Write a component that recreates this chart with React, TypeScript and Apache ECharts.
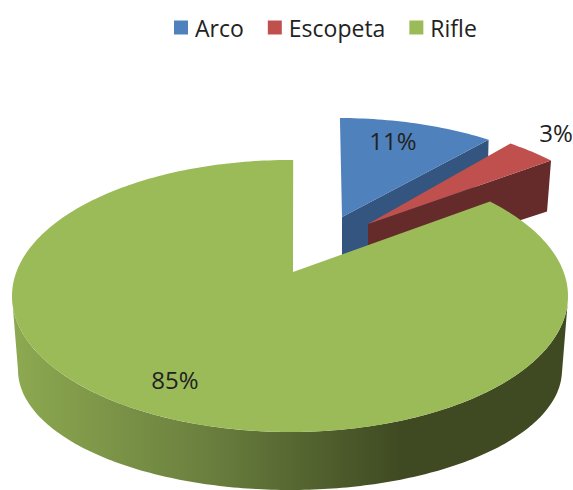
import React, { useEffect, useRef } from "react";
import * as echarts from "echarts";

const categories = ["Arco", "Escopeta", "Rifle"];
const percentValues = [11, 3, 85];

const colors = ["#4f81bd", "#c0504d", "#9bbb59"];
const wallColors = ["#34557f", "#652b2a", "#3f4a22"];
const LABEL_FONT = '"Open Sans", "Noto Sans", sans-serif';
const TOTAL = percentValues.reduce((a, b) => a + b, 0);

// Perspective layout of each exploded slice (pixels / degrees clockwise from 12 o'clock)
const sliceLayouts = [
  { cx: 338, cy: 254, rx: 278, ry: 136, apex: [342, 217], start: 0.4, sweepScale: 0.81, apexDepth: 45, tipDepth: 40, tipShift: -1, label: [393, 140] },
  { cx: 351, cy: 255, rx: 278, ry: 136, apex: [368, 224], start: 35, sweepScale: 1.01, apexDepth: 46, tipDepth: 51, tipShift: -4, label: [556, 132] },
  { cx: 290, cy: 296, rx: 278, ry: 136, apex: [293, 272], start: 46, sweepScale: 1.018, apexDepth: 0, tipDepth: 0, tipShift: 0, label: [175, 379] },
];
const greenFloor = { cx: 290, cy: 370, rx: 272, ry: 120 };

const rad = (d: number) => (d * Math.PI) / 180;
const onEllipse = (e: { cx: number; cy: number; rx: number; ry: number }, deg: number) => [
  e.cx + e.rx * Math.sin(rad(deg)),
  e.cy - e.ry * Math.cos(rad(deg)),
];
const arc = (e: any, from: number, to: number) => {
  const n = Math.max(2, Math.ceil(Math.abs(to - from)));
  const pts: number[][] = [];
  for (let i = 0; i <= n; i++) pts.push(onEllipse(e, from + ((to - from) * i) / n));
  return pts;
};

const renderSlice = (index: number) => (_params: any, api: any) => {
  const value = api.value(0);
  const s = sliceLayouts[index];
  const end = s.start + (value / TOTAL) * 360 * s.sweepScale;
  const children: any[] = [];
  if (index === 2) {
    const wall = [...arc(s, 92, 270), ...arc(greenFloor, 270, 92)];
    children.push({
      type: "polygon",
      shape: { points: wall },
      style: {
        fill: new echarts.graphic.LinearGradient(
          18, 0, 400, 0,
          [
            { offset: 0, color: "#8ca850" },
            { offset: 0.5, color: "#6a7f3e" },
            { offset: 1, color: wallColors[2] },
          ],
          true
        ),
      },
    });
  } else {
    const tip = onEllipse(s, end);
    children.push({
      type: "polygon",
      shape: {
        points: [
          s.apex,
          tip,
          [tip[0] + s.tipShift, tip[1] + s.tipDepth],
          [s.apex[0], s.apex[1] + s.apexDepth],
        ],
      },
      style: { fill: wallColors[index] },
    });
  }
  children.push({
    type: "polygon",
    shape: { points: [s.apex, ...arc(s, s.start, end)] },
    style: { fill: colors[index] },
  });
  children.push({
    type: "text",
    style: {
      x: s.label[0],
      y: s.label[1],
      text: `${value}%`,
      fill: "#222222",
      font: `24px ${LABEL_FONT}`,
      align: "center",
      verticalAlign: "middle",
    },
  });
  return { type: "group", children };
};

export default function App() {
  const ref = useRef<HTMLDivElement>(null);
  useEffect(() => {
    document.body.style.margin = "0";
    const chart = echarts.init(ref.current!, undefined, { renderer: "svg" });
    chart.setOption({
      animation: false,
      backgroundColor: "#ffffff",
      legend: {
        data: categories,
        left: 169,
        top: 11,
        icon: "rect",
        itemWidth: 14,
        itemHeight: 14,
        itemGap: 24,
        textStyle: { fontFamily: LABEL_FONT, fontSize: 23, color: "#222222", padding: [0, 0, 0, 2] },
      },
      series: categories.map((name, i) => ({
        type: "custom",
        name,
        coordinateSystem: "none",
        itemStyle: { color: colors[i] },
        data: [[percentValues[i]]],
        renderItem: renderSlice(i),
      })),
    });
    return () => chart.dispose();
  }, []);
  return <div ref={ref} style={{ position: "fixed", left: 0, top: 0, width: 573, height: 490 }} />;
}
